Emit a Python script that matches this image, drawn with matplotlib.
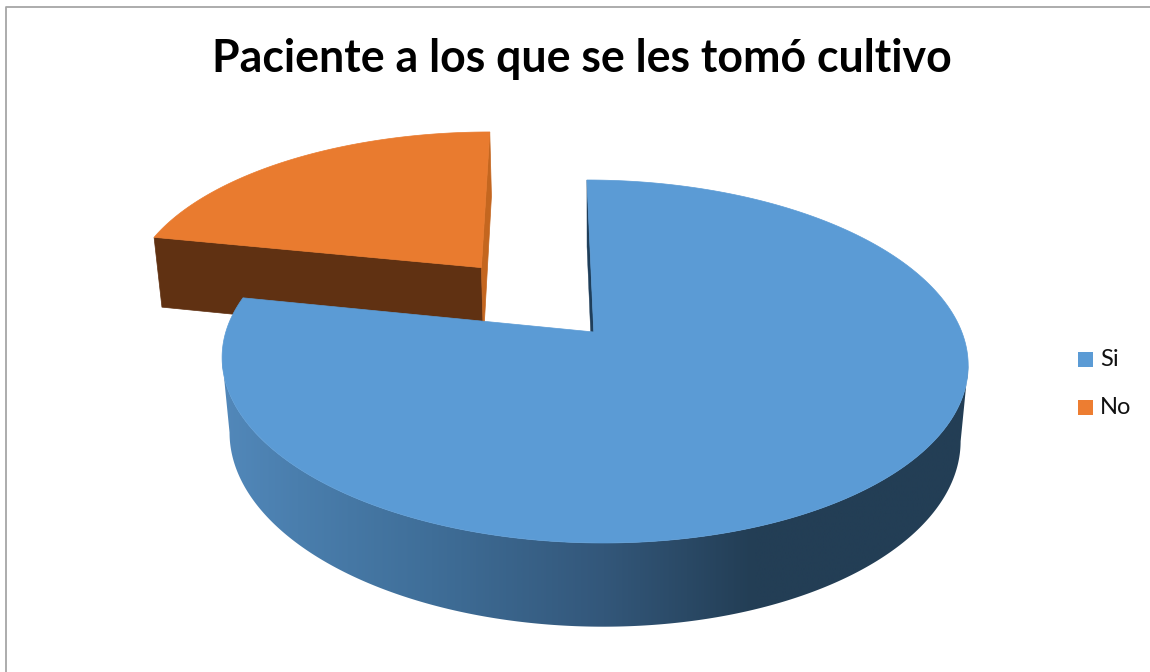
import numpy as np
import matplotlib
matplotlib.use("Agg")
import matplotlib.pyplot as plt
from matplotlib.patches import Polygon, Rectangle
from matplotlib.colors import LinearSegmentedColormap

title = "Paciente a los que se les tomó cultivo"
categories = ["Si", "No"]
values = [78.2, 21.8]
colors = ["#5B9BD5", "#ED7D31"]
explode = [0.0, 0.5]

# Perspective camera for the pie, in pixel units
X0, Y0 = 593.8, 332.0
B, A = 368.0, 176.7
SKEW, K = -8.0, 0.1625
M, H = 0.02, 76.0


def project(u, v, z=0.0):
    """Map unit-disc coordinates (z=1 is the bottom face) to canvas pixels."""
    u, v, z = np.asarray(u, float), np.asarray(v, float), np.asarray(z, float)
    w = 1 + K * v + M * z
    return X0 + (B * u + SKEW * v) / w, Y0 - (A * v - H * z) / w


fig = plt.figure(figsize=(11.5, 6.72), dpi=100)
ax = fig.add_axes([0, 0, 1, 1])

# Chart frame
ax.plot([5.5, 5.5, 1150], [672, 6.5, 6.5], color="#A6A6A6", lw=1.3, zorder=0)

# Left-to-right shading of the rim
shade = LinearSegmentedColormap.from_list(
    "side", [(0, "#5288BA"), (0.1, "#4A7EAD"), (0.28, "#3F6E98"), (0.51, "#33577A"), (0.71, "#233E55"), (1, "#233E55")]
)

total = sum(values)
edges = np.cumsum([0] + values) / total * 2 * np.pi
slices = []
for i, val in enumerate(values):
    a0, a1 = edges[i], edges[i + 1]
    mid = (a0 + a1) / 2
    cu, cv = explode[i] * np.sin(mid), explode[i] * np.cos(mid)
    t = np.linspace(a0, a1, 900)
    slices.append((cu, cv, a0, a1, t))

# "No" slice first: it sits behind the larger one
cu, cv, a0, a1, t = slices[1]
du, dv = np.sin(a0), np.cos(a0)
px, py = project([cu + du, cu, cu, cu + du], [cv + dv, cv, cv, cv + dv], [0, 0, 1, 1])
ax.add_patch(Polygon(np.c_[px, py], fc="#603112", ec="#603112", lw=0.5, zorder=2))
eu, ev = np.sin(a1), np.cos(a1)
px, py = project([cu, cu + eu, cu + eu, cu], [cv, cv + ev, cv + ev, cv], [0, 0, 1, 1])
ax.add_patch(Polygon(np.c_[px, py], fc="#C4661F", ec="#C4661F", lw=0.5, zorder=2))
u = np.r_[cu, cu + np.sin(t)]
v = np.r_[cv, cv + np.cos(t)]
px, py = project(u, v)
ax.add_patch(Polygon(np.c_[px, py], fc="#E97B2F", ec="#E97B2F", lw=0.5, zorder=3))

# "Si" slice: inner wall, shaded rim, then the top face
cu, cv, a0, a1, t = slices[0]
px, py = project([0, 0, 0, 0], [1, 0, 0, 1], [0, 0, 1, 1])
ax.add_patch(Polygon(np.c_[px, py], fc="#1F3E5A", ec="#1F3E5A", lw=0.3, zorder=4))

# The rim outline runs between the two silhouette points of each face
xa, ya = project(np.sin(t), np.cos(t), 0)
right, left = np.argmax(xa), np.argmin(xa)
xb, yb = project(np.sin(t), np.cos(t), 1)
right_b, left_b = np.argmax(xb), np.argmin(xb)
outline = np.r_[np.c_[xa[right:left + 1], ya[right:left + 1]],
                np.c_[xb[right_b:left_b + 1], yb[right_b:left_b + 1]][::-1]]
rim = Polygon(outline, fc="none", ec="none", transform=ax.transData)
ax.add_patch(rim)
gradient = np.linspace(0, 1, 512)[None, :]
img = ax.imshow(gradient, cmap=shade, extent=[222, 970, 672, 300], aspect="auto",
                interpolation="bilinear", zorder=5)
img.set_clip_path(rim)

u = np.r_[0, np.sin(t)]
v = np.r_[0, np.cos(t)]
px, py = project(u, v)
ax.add_patch(Polygon(np.c_[px, py], fc=colors[0], ec=colors[0], lw=0.5, zorder=6))

# Title and legend
ax.text(581.5, 58.5, title, ha="center", va="center", fontsize=32.1, fontweight="bold",
        family="Lato", color="black")
for name, col, y in zip(categories, colors, [359.5, 407.5]):
    ax.add_patch(Rectangle((1078, y - 7.5), 15, 15, fc=col, ec="none"))
    ax.text(1100, y, name, ha="left", va="center", fontsize=17, family="Lato", color="#111111")

ax.set_xlim(0, 1150)
ax.set_ylim(672, 0)
ax.axis("off")

fig.savefig("out.png", dpi=100, facecolor="white")
